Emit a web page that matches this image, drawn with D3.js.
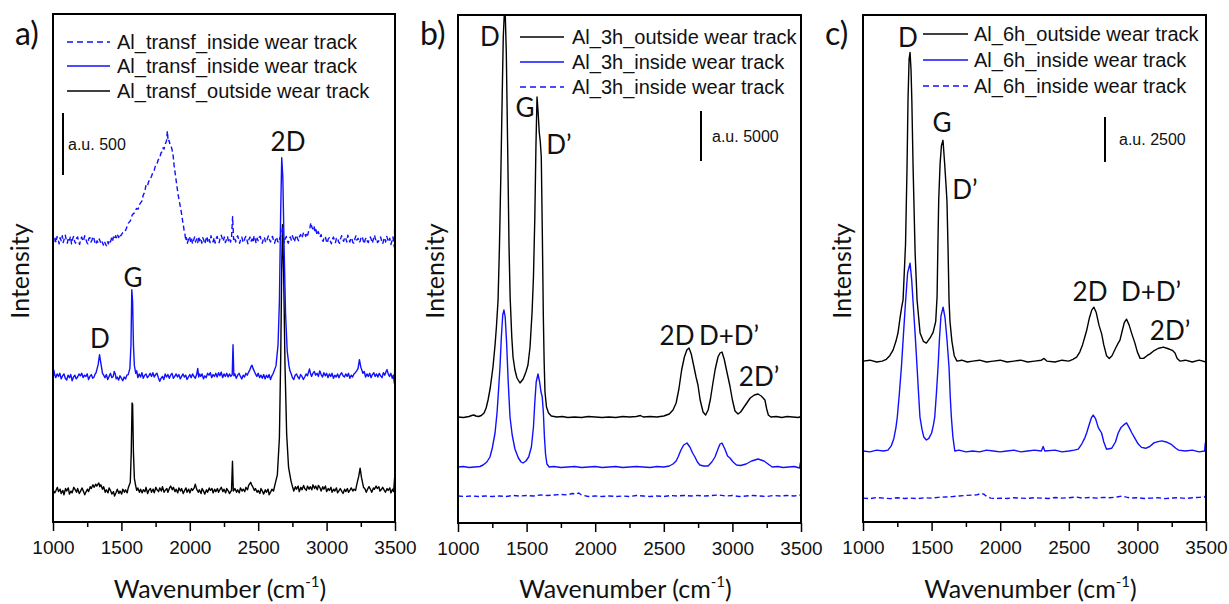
<!DOCTYPE html>
<html>
<head>
<meta charset="utf-8">
<script src="https://cdn.jsdelivr.net/npm/d3@7"></script>
<style>
  body { margin: 0; background: #fff; }
  svg { display: block; }
</style>
</head>
<body>
<div id="chart"></div>
<script>
// tick values shared by the three panels
var xTicks = [1000, 1500, 2000, 2500, 3000, 3500];
var xMinor = [1250, 1750, 2250, 2750, 3250];

// ---- panel a) raw spectra [wavenumber, intensity] ----
var aOutside = [[1000,0],[1012,-25],[1020,-10],[1032,20],[1040,-15],[1052,5],[1060,-30],[1072,-5],[1080,-40],[1092,10],[1100,-10],[1112,15],[1120,-35],[1132,-10],[1140,-25],[1152,20],[1160,5],[1172,-20],[1180,10],[1192,-30],[1200,-15],[1212,15],[1220,-5],[1232,-40],[1240,-20],[1252,5],[1260,-15],[1272,25],[1280,10],[1292,40],[1300,20],[1312,45],[1320,30],[1335,55],[1342,25],[1350,40],[1362,5],[1370,25],[1382,-20],[1390,0],[1402,-25],[1410,15],[1422,-10],[1430,-35],[1442,-15],[1450,-50],[1462,-20],[1470,5],[1482,-30],[1490,-10],[1502,-35],[1510,5],[1522,-20],[1530,0],[1542,-25],[1550,15],[1565,60],[1572,300],[1578,700],[1582,690],[1588,300],[1595,90],[1605,30],[1612,-5],[1620,15],[1632,-20],[1640,5],[1652,-25],[1660,0],[1672,-15],[1680,20],[1692,-30],[1700,-5],[1712,10],[1720,-20],[1732,5],[1740,-25],[1752,20],[1760,0],[1772,-15],[1780,15],[1792,-10],[1800,25],[1812,-20],[1820,-5],[1832,10],[1840,-20],[1852,15],[1860,30],[1872,0],[1880,20],[1892,-15],[1900,5],[1912,-25],[1920,15],[1932,-10],[1940,10],[1952,-30],[1960,-10],[1972,15],[1980,-20],[1992,5],[2000,-25],[2012,10],[2020,-5],[2032,15],[2040,45],[2050,5],[2062,-20],[2070,0],[2082,-30],[2090,10],[2102,-15],[2110,-35],[2122,0],[2130,-20],[2142,15],[2150,-5],[2162,10],[2170,-25],[2182,5],[2190,-15],[2202,10],[2210,-20],[2222,5],[2230,20],[2242,-15],[2250,5],[2262,-25],[2270,10],[2282,-10],[2290,-30],[2305,-5],[2312,230],[2318,-10],[2330,10],[2342,-20],[2350,0],[2362,-25],[2370,15],[2382,-10],[2390,5],[2402,-15],[2410,20],[2422,0],[2430,35],[2445,60],[2452,40],[2460,25],[2472,-5],[2480,10],[2492,-20],[2500,-5],[2512,-30],[2520,10],[2532,-15],[2540,-35],[2552,0],[2560,-20],[2572,5],[2580,-40],[2592,-15],[2600,5],[2612,-10],[2620,30],[2640,120],[2655,420],[2665,1100],[2672,1800],[2678,2140],[2686,1750],[2696,1000],[2708,450],[2722,180],[2740,70],[2752,20],[2760,-10],[2772,25],[2780,5],[2792,30],[2800,-15],[2812,20],[2820,0],[2832,35],[2840,10],[2852,-5],[2860,30],[2872,5],[2880,25],[2892,0],[2900,40],[2912,10],[2920,30],[2932,0],[2940,35],[2952,15],[2960,-10],[2972,25],[2980,5],[2992,30],[3000,-15],[3012,10],[3020,-5],[3032,20],[3040,-20],[3052,5],[3060,-10],[3072,15],[3080,-25],[3092,-5],[3100,10],[3112,-15],[3120,-30],[3132,5],[3140,-15],[3152,10],[3160,-20],[3172,0],[3180,15],[3192,-10],[3200,5],[3212,-5],[3220,40],[3235,110],[3245,175],[3255,100],[3270,20],[3282,5],[3290,-20],[3302,10],[3310,25],[3322,0],[3330,-20],[3342,15],[3350,5],[3362,30],[3370,10],[3382,25],[3390,-10],[3402,5],[3410,20],[3422,-5],[3430,-20],[3442,10],[3450,-5],[3462,15],[3470,-25],[3482,5],[3490,-15],[3500,140]];

var aInside = [[1000,0],[1006,45],[1012,10],[1020,-15],[1030,15],[1040,-5],[1050,20],[1060,-25],[1070,0],[1080,15],[1090,-20],[1100,-35],[1110,5],[1120,-15],[1130,10],[1140,-40],[1150,-10],[1160,5],[1170,-25],[1180,-10],[1190,15],[1200,0],[1210,20],[1220,-15],[1230,5],[1240,-5],[1250,15],[1260,-30],[1270,-5],[1280,10],[1290,-20],[1300,-10],[1308,15],[1315,25],[1330,90],[1340,170],[1350,100],[1362,20],[1370,5],[1380,-15],[1390,10],[1400,-30],[1410,-5],[1420,20],[1430,-15],[1440,-5],[1448,35],[1455,15],[1462,-25],[1470,-10],[1480,-35],[1490,0],[1500,-20],[1510,-40],[1520,-10],[1530,-25],[1540,5],[1550,10],[1562,60],[1570,250],[1576,694],[1582,600],[1588,250],[1595,80],[1605,20],[1612,40],[1620,-15],[1630,15],[1640,-10],[1650,25],[1660,-20],[1670,5],[1680,15],[1690,-15],[1700,0],[1710,20],[1720,-5],[1730,25],[1740,-10],[1750,10],[1760,20],[1770,-15],[1780,-45],[1790,-20],[1800,-5],[1810,-30],[1820,15],[1830,-10],[1840,10],[1850,-20],[1860,5],[1870,20],[1880,-20],[1890,-5],[1900,15],[1910,-10],[1920,10],[1930,-25],[1940,-5],[1950,15],[1960,-10],[1970,5],[1980,-30],[1990,-10],[2000,10],[2010,-15],[2020,15],[2030,-5],[2040,-20],[2050,10],[2058,60],[2065,-10],[2072,15],[2080,-5],[2090,15],[2100,-25],[2110,0],[2120,-15],[2130,20],[2140,5],[2150,25],[2160,-15],[2170,10],[2180,-5],[2190,20],[2200,-10],[2210,25],[2220,0],[2230,30],[2240,-15],[2250,15],[2260,-5],[2270,20],[2280,-10],[2290,15],[2300,-5],[2310,10],[2316,250],[2322,0],[2330,15],[2340,-20],[2350,5],[2360,20],[2370,-5],[2380,-25],[2390,5],[2400,-10],[2410,20],[2420,5],[2430,30],[2440,50],[2448,75],[2455,85],[2462,60],[2470,40],[2480,15],[2490,-5],[2500,20],[2510,-15],[2520,5],[2530,-20],[2540,10],[2550,-25],[2560,5],[2570,-15],[2580,10],[2590,-30],[2600,0],[2610,20],[2630,80],[2645,250],[2655,600],[2664,1300],[2672,1760],[2680,1600],[2690,1000],[2700,500],[2712,200],[2725,80],[2732,40],[2740,20],[2750,-15],[2760,-30],[2770,5],[2780,15],[2790,-10],[2800,-25],[2810,10],[2820,-5],[2830,-30],[2840,-10],[2850,15],[2860,0],[2868,30],[2875,55],[2882,20],[2890,-5],[2900,20],[2910,35],[2920,5],[2930,20],[2940,-5],[2950,40],[2960,10],[2970,-10],[2980,25],[2990,0],[3000,20],[3010,-15],[3020,15],[3030,-5],[3040,20],[3050,-20],[3060,5],[3070,-10],[3080,15],[3090,-15],[3100,10],[3110,25],[3120,0],[3130,-10],[3140,15],[3150,-5],[3160,20],[3170,-20],[3180,5],[3190,-10],[3200,15],[3210,25],[3220,40],[3230,60],[3240,130],[3250,70],[3258,45],[3265,20],[3275,35],[3285,-10],[3295,15],[3305,-5],[3315,20],[3325,-15],[3335,10],[3345,25],[3355,-5],[3365,15],[3375,-10],[3385,20],[3395,0],[3405,-15],[3415,25],[3425,5],[3435,35],[3442,50],[3450,15],[3460,-5],[3470,20],[3480,-20],[3488,5],[3495,-60],[3500,160]];

var aInsideDash = [[1000,20],[1008,-20],[1015,10],[1022,-25],[1030,25],[1038,0],[1045,-35],[1052,15],[1060,-10],[1068,30],[1075,-25],[1082,5],[1090,35],[1098,-10],[1105,-30],[1112,15],[1120,-5],[1128,25],[1135,-35],[1142,0],[1150,25],[1158,-15],[1165,-30],[1172,10],[1180,20],[1188,-20],[1195,-40],[1202,5],[1210,20],[1218,-15],[1225,0],[1232,30],[1240,5],[1248,-25],[1255,-35],[1262,10],[1270,15],[1278,-20],[1285,-5],[1292,25],[1300,5],[1308,-30],[1315,-40],[1322,-10],[1330,-25],[1338,5],[1345,-15],[1352,-35],[1360,-20],[1368,-45],[1375,-15],[1382,-30],[1390,-50],[1398,-20],[1405,-35],[1412,-5],[1420,-20],[1428,10],[1435,-15],[1442,20],[1450,0],[1458,30],[1465,10],[1472,35],[1480,15],[1488,45],[1495,30],[1510,55],[1526,60],[1550,130],[1565,150],[1580,200],[1595,215],[1610,250],[1622,245],[1636,290],[1650,310],[1660,360],[1670,380],[1680,440],[1690,430],[1700,470],[1709,480],[1720,510],[1730,540],[1740,560],[1750,600],[1760,610],[1768,640],[1780,660],[1790,700],[1800,710],[1805,740],[1812,730],[1819,770],[1825,780],[1830,800],[1836,875],[1842,790],[1848,800],[1855,770],[1862,760],[1870,726],[1878,680],[1885,600],[1895,520],[1906,428],[1915,360],[1925,300],[1935,240],[1943,186],[1950,130],[1955,100],[1960,60],[1965,40],[1970,-10],[1975,15],[1982,-30],[1990,0],[1998,25],[2005,-15],[2012,10],[2020,-35],[2028,-5],[2035,20],[2042,-20],[2050,5],[2058,-25],[2065,25],[2072,-10],[2080,10],[2088,-30],[2095,15],[2102,-5],[2110,-35],[2118,0],[2125,25],[2132,-15],[2140,10],[2148,-25],[2155,30],[2162,0],[2170,-20],[2178,15],[2185,-30],[2192,5],[2200,25],[2208,-10],[2215,-25],[2222,15],[2230,35],[2238,5],[2245,-15],[2252,20],[2260,-25],[2268,0],[2275,25],[2282,-10],[2290,10],[2298,-20],[2305,15],[2313,185],[2320,0],[2328,20],[2335,-20],[2342,10],[2350,30],[2358,-5],[2365,-30],[2372,5],[2380,20],[2388,-15],[2395,-25],[2402,10],[2410,25],[2418,-5],[2425,-35],[2432,0],[2440,20],[2448,-15],[2455,5],[2462,-25],[2470,30],[2478,0],[2485,-30],[2492,10],[2500,-10],[2508,20],[2515,25],[2522,-10],[2530,-30],[2538,5],[2545,20],[2552,-15],[2560,-25],[2568,10],[2575,30],[2582,0],[2590,-20],[2598,15],[2605,25],[2612,-10],[2620,-30],[2628,5],[2635,20],[2642,-15],[2650,-25],[2658,10],[2665,30],[2672,50],[2678,100],[2684,20],[2690,-25],[2698,5],[2705,25],[2712,-10],[2720,-30],[2728,10],[2735,20],[2742,-5],[2750,30],[2758,5],[2765,-20],[2772,15],[2780,35],[2788,5],[2795,-10],[2802,25],[2810,40],[2818,10],[2825,30],[2832,60],[2840,45],[2848,25],[2855,55],[2862,35],[2870,75],[2878,95],[2885,135],[2892,100],[2900,85],[2908,110],[2915,60],[2922,80],[2930,35],[2938,65],[2945,45],[2952,20],[2960,40],[2968,0],[2975,-15],[2982,20],[2990,25],[2998,-10],[3005,-30],[3012,5],[3020,15],[3028,-15],[3035,-35],[3042,0],[3050,20],[3058,-10],[3065,-25],[3072,10],[3080,15],[3088,-20],[3095,-30],[3102,5],[3110,30],[3118,0],[3125,-15],[3132,20],[3140,10],[3148,-20],[3155,35],[3162,5],[3170,-20],[3178,15],[3185,5],[3192,-25],[3200,-30],[3208,10],[3215,30],[3222,-5],[3230,10],[3238,-25],[3245,-15],[3252,20],[3260,25],[3268,-10],[3275,-35],[3282,0],[3290,15],[3298,-15],[3305,-25],[3312,10],[3320,20],[3328,-5],[3335,-30],[3342,5],[3350,35],[3358,0],[3365,10],[3372,-25],[3380,-15],[3388,15],[3395,20],[3402,-10],[3410,-35],[3418,0],[3425,15],[3432,-20],[3440,25],[3448,-5],[3455,-20],[3462,10],[3470,-40],[3478,-10],[3485,20],[3490,-20],[3495,-60],[3500,260]];

// vertical stacking offsets (a.u.)
var aOffsets = [260, 1180, 2280];

// ---- panel b) ----
var bOutside = [[1000,0],[1040,-50],[1080,50],[1100,150],[1115,200],[1130,100],[1150,50],[1170,150],[1190,400],[1205,900],[1219,1700],[1235,2900],[1255,5000],[1270,7200],[1280,9000],[1292,11700],[1302,17000],[1312,24000],[1322,32000],[1330,38000],[1338,40500],[1345,40000],[1352,36500],[1362,27000],[1372,17000],[1380,12000],[1392,8000],[1401,6000],[1415,4700],[1430,3900],[1452,3400],[1475,3800],[1495,4500],[1510,5200],[1525,7000],[1540,10500],[1550,14000],[1560,20000],[1568,27000],[1576,32000],[1584,30500],[1592,28500],[1600,27500],[1607,26000],[1615,18000],[1622,10000],[1628,5500],[1634,2500],[1645,1000],[1660,400],[1680,100],[1720,0],[1760,50],[1800,-50],[1850,0],[1900,-50],[1950,50],[2000,0],[2050,-50],[2100,0],[2150,-50],[2200,50],[2250,0],[2300,50],[2330,150],[2350,0],[2400,50],[2450,0],[2500,100],[2540,300],[2567,700],[2590,1400],[2610,2800],[2630,4700],[2650,6000],[2668,6700],[2684,6900],[2700,6300],[2720,5000],[2735,4000],[2749,3200],[2765,1700],[2786,500],[2805,200],[2823,700],[2840,1800],[2858,3400],[2875,4800],[2895,6000],[2910,6400],[2924,6500],[2940,5800],[2960,4500],[2982,3100],[3000,1700],[3019,600],[3041,300],[3060,500],[3080,900],[3105,1400],[3130,1900],[3160,2200],[3187,2300],[3210,2100],[3237,1700],[3250,800],[3262,200],[3280,0],[3320,50],[3360,-50],[3400,50],[3440,0],[3480,-50],[3500,50]];

var bInside = [[1000,0],[1040,50],[1080,-50],[1120,0],[1160,50],[1183,200],[1210,500],[1233,1000],[1250,1900],[1270,3400],[1285,5500],[1296,7800],[1306,10000],[1316,13000],[1326,15200],[1335,15700],[1344,15000],[1354,12500],[1366,8500],[1379,5000],[1395,3200],[1415,1800],[1440,900],[1460,500],[1474,400],[1495,600],[1515,1000],[1535,2000],[1550,4000],[1560,6500],[1570,8500],[1583,9300],[1595,8500],[1605,7500],[1614,7000],[1622,5500],[1630,3000],[1638,1300],[1648,300],[1665,0],[1700,50],[1750,-50],[1800,0],[1850,50],[1900,-50],[1950,0],[2000,50],[2050,-50],[2100,0],[2150,50],[2200,-50],[2250,0],[2300,50],[2350,0],[2400,-50],[2450,50],[2500,0],[2540,100],[2567,300],[2590,600],[2604,1000],[2625,1700],[2645,2200],[2669,2400],[2690,2000],[2710,1400],[2727,1000],[2745,500],[2763,200],[2790,100],[2823,100],[2850,500],[2873,1000],[2895,1800],[2910,2300],[2924,2400],[2945,1800],[2965,1100],[2982,900],[3005,500],[3030,200],[3060,150],[3100,300],[3140,600],[3187,800],[3230,600],[3260,300],[3290,0],[3330,50],[3370,-50],[3410,0],[3450,50],[3490,-100],[3495,400],[3500,-200]];

var bInsideDash = [[1000,0],[1050,-50],[1100,0],[1150,-50],[1200,0],[1250,-50],[1300,0],[1350,-50],[1400,50],[1450,0],[1500,50],[1550,0],[1600,100],[1650,50],[1700,100],[1750,150],[1800,100],[1830,250],[1860,200],[1880,300],[1900,100],[1950,-50],[2000,0],[2050,-50],[2100,0],[2150,-50],[2200,0],[2250,-50],[2300,50],[2350,0],[2400,-50],[2450,0],[2500,-50],[2550,50],[2600,0],[2650,50],[2700,0],[2750,50],[2800,0],[2850,50],[2900,100],[2950,0],[3000,50],[3050,-50],[3100,0],[3150,50],[3200,0],[3250,-50],[3300,50],[3350,0],[3400,50],[3450,0],[3500,100]];

var bOffsets = [10600, 5600, 2700];

// ---- panel c) ----
var cOutside = [[1000,0],[1050,50],[1100,-50],[1140,0],[1170,100],[1195,300],[1219,610],[1240,1100],[1255,1560],[1270,2400],[1282,3000],[1292,3400],[1310,6500],[1321,10800],[1328,14500],[1336,16800],[1343,17170],[1350,16200],[1356,14500],[1365,10800],[1380,6000],[1394,3400],[1416,1560],[1440,1100],[1462,1000],[1490,1300],[1511,1600],[1530,2200],[1540,3600],[1546,6500],[1552,9000],[1562,11000],[1572,12000],[1583,12280],[1595,11000],[1605,9800],[1612,8900],[1620,6200],[1627,3400],[1634,2200],[1648,1100],[1665,300],[1685,0],[1720,50],[1760,-50],[1800,0],[1850,50],[1900,-50],[1950,0],[2000,50],[2050,-50],[2100,0],[2150,50],[2200,-50],[2250,0],[2300,50],[2320,150],[2340,0],[2400,-50],[2450,50],[2500,0],[2530,100],[2557,220],[2580,500],[2600,900],[2615,1300],[2630,1700],[2650,2400],[2668,2850],[2683,3000],[2700,2700],[2720,2000],[2740,1500],[2755,900],[2775,300],[2795,150],[2815,300],[2840,700],[2860,1000],[2873,1170],[2890,1700],[2905,2150],[2921,2330],[2940,2000],[2960,1500],[2982,1000],[3000,500],[3020,150],[3045,150],[3070,300],[3092,400],[3116,550],[3150,700],[3189,780],[3220,700],[3255,600],[3274,450],[3290,150],[3310,0],[3350,50],[3400,-50],[3450,50],[3500,-50]];

var cInside = [[1000,0],[1050,-50],[1100,50],[1150,0],[1182,50],[1207,300],[1225,700],[1240,1300],[1250,1890],[1265,3200],[1280,4670],[1295,6500],[1311,8400],[1325,9900],[1343,10450],[1355,9500],[1364,8400],[1380,6500],[1394,4670],[1405,3200],[1415,1890],[1430,1200],[1443,780],[1462,610],[1480,700],[1500,1000],[1512,1400],[1523,1890],[1535,3200],[1547,4670],[1557,6200],[1568,7500],[1584,8000],[1598,7400],[1612,6200],[1627,4670],[1636,3000],[1644,1890],[1655,800],[1669,0],[1700,50],[1750,-50],[1800,0],[1850,-50],[1900,50],[1950,0],[2000,-50],[2050,0],[2100,50],[2150,-50],[2200,0],[2250,50],[2300,0],[2313,250],[2325,0],[2400,50],[2450,-50],[2500,0],[2540,50],[2569,100],[2595,400],[2615,700],[2630,1000],[2650,1500],[2665,1850],[2678,2000],[2695,1800],[2715,1300],[2739,1000],[2755,500],[2775,100],[2812,150],[2840,500],[2860,1000],[2880,1300],[2900,1450],[2921,1560],[2940,1300],[2960,1000],[2982,700],[3005,400],[3030,200],[3060,150],[3090,250],[3120,450],[3150,520],[3177,560],[3210,500],[3250,350],[3280,150],[3300,50],[3350,0],[3400,50],[3450,-50],[3490,0],[3495,450],[3500,100]];

var cInsideDash = [[1000,0],[1050,-30],[1100,30],[1150,0],[1200,-30],[1250,20],[1300,-20],[1350,0],[1400,-30],[1450,20],[1500,0],[1550,40],[1600,60],[1650,80],[1700,120],[1750,150],[1800,170],[1830,180],[1860,260],[1880,220],[1900,100],[1930,0],[1970,-30],[2000,0],[2050,-20],[2100,20],[2150,0],[2200,-20],[2250,20],[2300,0],[2350,-20],[2400,30],[2450,0],[2500,20],[2550,60],[2600,0],[2650,30],[2700,0],[2750,40],[2800,20],[2850,60],[2890,120],[2920,50],[2950,0],[3000,20],[3050,-20],[3100,0],[3150,20],[3200,-30],[3250,0],[3300,20],[3350,-20],[3400,20],[3450,40],[3490,60],[3500,180]];

var cOffsets = [8950, 3950, 1330];

// legend texts
var aLegend = ["Al_transf_inside wear track", "Al_transf_inside wear track", "Al_transf_outside wear track"];
var bLegend = ["Al_3h_outside wear track", "Al_3h_inside wear track", "Al_3h_inside wear track"];
var cLegend = ["Al_6h_outside wear track", "Al_6h_inside wear track", "Al_6h_inside wear track"];

// scale bar values
var scaleBars = [500, 5000, 2500];

var BLUE = "#1010ff";
var sans = "'Liberation Sans', Arial, sans-serif";
var cal = "Lato, 'Open Sans', sans-serif";

var svg = d3.select("#chart").append("svg")
  .attr("width", 1229).attr("height", 604);

function drawPanel(p) {
  var x = d3.scaleLinear().domain([1000, 3500]).range([p.left, p.right]);
  var y = d3.scaleLinear().domain([0, p.yMax]).range([p.bottom, p.top]);
  var g = svg.append("g");

  g.append("clipPath").attr("id", "clip" + p.id)
    .append("rect")
    .attr("x", p.left).attr("y", p.top)
    .attr("width", p.right - p.left).attr("height", p.bottom - p.top);

  var line = function (off) {
    return d3.line().x(function (d) { return x(d[0]); })
      .y(function (d) { return y(d[1] + off); });
  };

  var plot = g.append("g").attr("clip-path", "url(#clip" + p.id + ")");
  p.series.forEach(function (s, i) {
    plot.append("path")
      .datum(s.data)
      .attr("fill", "none")
      .attr("stroke", s.color)
      .attr("stroke-width", 1.4)
      .attr("stroke-dasharray", s.dash ? "5,3" : null)
      .attr("stroke-linejoin", "round")
      .attr("d", line(p.offsets[i]));
  });

  // minor ticks
  g.append("g")
    .attr("transform", "translate(0," + p.bottom + ")")
    .call(d3.axisBottom(x).tickValues(xMinor).tickSize(5).tickFormat(""))
    .call(function (a) { a.select(".domain").remove(); })
    .selectAll("line").attr("stroke-width", 1.5);

  var ax = g.append("g")
    .attr("transform", "translate(0," + p.bottom + ")")
    .call(d3.axisBottom(x).tickValues(xTicks).tickSize(9).tickPadding(10).tickFormat(d3.format("d")));
  ax.select(".domain").remove();
  ax.selectAll("line").attr("stroke-width", 1.5);
  ax.selectAll("text").attr("font-family", sans).attr("font-size", 19).attr("fill", "#111");

  // frame
  g.append("rect")
    .attr("x", p.left).attr("y", p.top)
    .attr("width", p.right - p.left).attr("height", p.bottom - p.top)
    .attr("fill", "none").attr("stroke", "#000").attr("stroke-width", 2);

  // legend
  p.legendOrder.forEach(function (si, k) {
    var s = p.series[si];
    var ly = p.legY[k];
    g.append("line")
      .attr("x1", p.legX[0]).attr("x2", p.legX[1])
      .attr("y1", ly).attr("y2", ly)
      .attr("stroke", s.color).attr("stroke-width", 1.4)
      .attr("stroke-dasharray", s.dash ? "6,4" : null);
    g.append("text")
      .attr("x", p.legX[2]).attr("y", ly + 7)
      .attr("font-family", sans).attr("font-size", 20).attr("fill", "#111")
      .text(p.legend[k]);
  });

  // scale bar
  var barH = y(0) - y(p.bar);
  g.append("line")
    .attr("x1", p.barX).attr("x2", p.barX)
    .attr("y1", p.barY).attr("y2", p.barY + barH)
    .attr("stroke", "#000").attr("stroke-width", 2);
  g.append("text")
    .attr("x", p.barX + p.barTx).attr("y", p.barY + barH / 2 + 6)
    .attr("font-family", sans).attr("font-size", 16).attr("fill", "#111")
    .text("a.u. " + p.bar);

  // peak labels
  p.peaks.forEach(function (pk) {
    g.append("text")
      .attr("x", pk[1]).attr("y", pk[2])
      .attr("text-anchor", "middle")
      .attr("font-family", cal).attr("font-size", 26).attr("fill", "#111")
      .text(pk[0]);
  });

  // panel letter
  g.append("text")
    .attr("x", p.left - 38).attr("y", 45)
    .attr("font-family", cal).attr("font-size", 32).attr("fill", "#111")
    .text(p.id + ")");

  // axis titles
  g.append("text")
    .attr("transform", "translate(" + p.yTitleX + ",271) rotate(-90)")
    .attr("text-anchor", "middle")
    .attr("font-family", cal).attr("font-size", 25).attr("fill", "#111")
    .text("Intensity");

  var t = g.append("text")
    .attr("x", (p.left + p.right) / 2 - 4).attr("y", 598)
    .attr("text-anchor", "middle")
    .attr("font-family", cal).attr("font-size", 25).attr("fill", "#111");
  t.append("tspan").text("Wavenumber (cm");
  t.append("tspan").attr("font-size", 15).attr("dy", -11).text("-1");
  t.append("tspan").attr("dy", 11).text(")");
}

drawPanel({
  id: "a", left: 53, right: 395, top: 14, bottom: 522, yMax: 4100,
  series: [
    { data: aOutside, color: "#000" },
    { data: aInside, color: BLUE },
    { data: aInsideDash, color: BLUE, dash: true }
  ],
  offsets: aOffsets,
  legend: aLegend, legendOrder: [2, 1, 0],
  legX: [67, 110, 117], legY: [42, 66, 91],
  bar: scaleBars[0], barX: 63, barY: 113, barTx: 5,
  peaks: [["2D", 288, 151], ["G", 133, 287], ["D", 100, 348]],
  yTitleX: 29
});

drawPanel({
  id: "b", left: 458, right: 801, top: 15, bottom: 523, yMax: 50800,
  series: [
    { data: bOutside, color: "#000" },
    { data: bInside, color: BLUE },
    { data: bInsideDash, color: BLUE, dash: true }
  ],
  offsets: bOffsets,
  legend: bLegend, legendOrder: [0, 1, 2],
  legX: [520, 564, 572], legY: [37, 62, 87],
  bar: scaleBars[1], barX: 701, barY: 111, barTx: 11,
  peaks: [["D", 490, 46], ["G", 525, 117], ["D\u2019", 559, 154], ["2D", 677, 345], ["D+D\u2019", 729, 345], ["2D\u2019", 759, 386]],
  yTitleX: 444
});

drawPanel({
  id: "c", left: 863, right: 1206, top: 15, bottom: 522, yMax: 28200,
  series: [
    { data: cOutside, color: "#000" },
    { data: cInside, color: BLUE },
    { data: cInsideDash, color: BLUE, dash: true }
  ],
  offsets: cOffsets,
  legend: cLegend, legendOrder: [0, 1, 2],
  legX: [923, 968, 974], legY: [34, 60, 86],
  bar: scaleBars[2], barX: 1105, barY: 117, barTx: 14,
  peaks: [["D", 908, 47], ["G", 942, 132], ["D\u2019", 965, 199], ["2D", 1090, 301], ["D+D\u2019", 1151, 301], ["2D\u2019", 1170, 340]],
  yTitleX: 851
});
</script>
</body>
</html>
